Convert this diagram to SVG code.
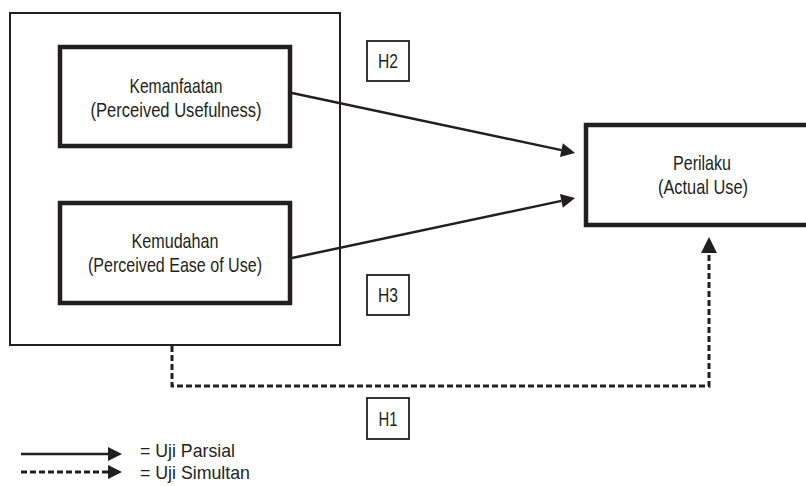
<svg xmlns="http://www.w3.org/2000/svg" width="806" height="486" viewBox="0 0 806 486">
<defs>
<style>
.bg{fill:#fff}
.outer{fill:none;stroke:#231f20;stroke-width:2}
.node{fill:#fff;stroke:#231f20;stroke-width:4.5}
.hbox{fill:#fff;stroke:#231f20;stroke-width:1.8}
text{font-family:"Liberation Sans",Arial,sans-serif;font-size:21px;fill:#231f20;text-anchor:middle}
.lt{text-anchor:start;font-size:19px}
.solid{fill:none;stroke:#231f20;stroke-width:2.5}
.dash{fill:none;stroke:#231f20;stroke-width:3;stroke-dasharray:6 3}
</style>
<marker id="head" viewBox="0 0 10 10" refX="0" refY="5" markerWidth="19" markerHeight="14" markerUnits="userSpaceOnUse" orient="auto">
<path d="M0,0 L10,5 L0,10 Z" fill="#231f20"/>
</marker>
<marker id="headBig" viewBox="0 0 10 10" refX="0" refY="5" markerWidth="20" markerHeight="16" markerUnits="userSpaceOnUse" orient="auto">
<path d="M0,0 L10,5 L0,10 Z" fill="#231f20"/>
</marker>
<marker id="headLeg" viewBox="0 0 10 10" refX="0" refY="5" markerWidth="17" markerHeight="14" markerUnits="userSpaceOnUse" orient="auto">
<path d="M0,0 L10,5 L0,10 Z" fill="#231f20"/>
</marker>
</defs>
<rect class="bg" x="0" y="0" width="806" height="486"/>

<g id="group-box">
<rect class="outer" x="10" y="13" width="330" height="332"/>
</g>

<g id="connectors">
<line class="solid" x1="292" y1="93" x2="561.4" y2="150.1" marker-end="url(#head)"/>
<line class="solid" x1="292" y1="258" x2="561.4" y2="200.9" marker-end="url(#head)"/>
<path class="dash" d="M172,346 V386 H709 V253" marker-end="url(#headBig)"/>
</g>

<g id="kemanfaatan">
<rect class="node" x="60" y="47" width="230" height="99"/>
<text x="176" y="93" textLength="93" lengthAdjust="spacingAndGlyphs">Kemanfaatan</text>
<text x="176" y="117" textLength="171" lengthAdjust="spacingAndGlyphs">(Perceived Usefulness)</text>
</g>

<g id="kemudahan">
<rect class="node" x="60" y="203" width="230" height="100"/>
<text x="175" y="248" textLength="87" lengthAdjust="spacingAndGlyphs">Kemudahan</text>
<text x="175" y="272" textLength="174" lengthAdjust="spacingAndGlyphs">(Perceived Ease of Use)</text>
</g>

<g id="perilaku">
<rect class="node" x="586" y="125" width="230" height="100"/>
<text x="702" y="170" textLength="58" lengthAdjust="spacingAndGlyphs">Perilaku</text>
<text x="703" y="194" textLength="90" lengthAdjust="spacingAndGlyphs">(Actual Use)</text>
</g>

<g id="h2">
<rect class="hbox" x="367" y="41" width="42" height="40"/>
<text x="388" y="68" textLength="20" lengthAdjust="spacingAndGlyphs">H2</text>
</g>

<g id="h3">
<rect class="hbox" x="367" y="275" width="42" height="40"/>
<text x="388" y="302" textLength="20" lengthAdjust="spacingAndGlyphs">H3</text>
</g>

<g id="h1">
<rect class="hbox" x="367" y="398" width="42" height="41"/>
<text x="388" y="426" textLength="19" lengthAdjust="spacingAndGlyphs">H1</text>
</g>

<g id="legend">
<line class="solid" x1="21" y1="454" x2="108" y2="454" marker-end="url(#headLeg)"/>
<line class="dash" x1="21" y1="472" x2="108" y2="472" marker-end="url(#headLeg)"/>
<text class="lt" x="140" y="457" textLength="95" lengthAdjust="spacingAndGlyphs">= Uji Parsial</text>
<text class="lt" x="140" y="479" textLength="110" lengthAdjust="spacingAndGlyphs">= Uji Simultan</text>
</g>
</svg>
